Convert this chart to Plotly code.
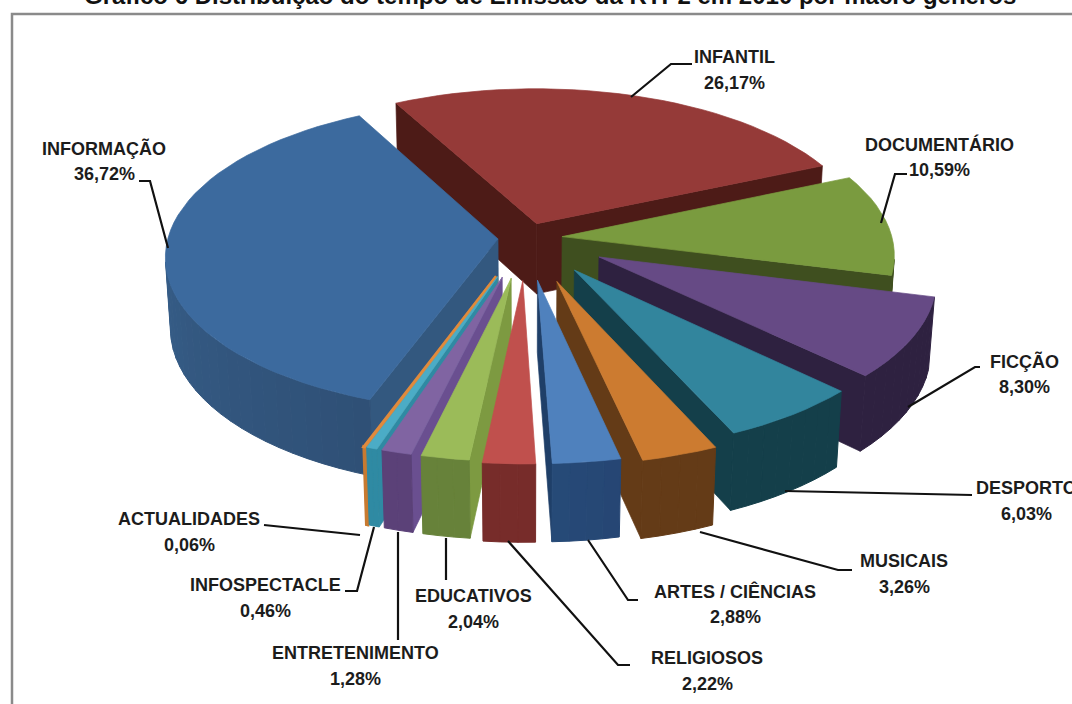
import math
import plotly.graph_objects as go

# Share of RTP2 airtime in 2010 by macro genre, in drawing order around the pie
genres = ["INFANTIL", "DOCUMENTÁRIO", "FICÇÃO", "DESPORTO", "MUSICAIS", "ARTES / CIÊNCIAS",
          "RELIGIOSOS", "EDUCATIVOS", "ENTRETENIMENTO", "INFOSPECTACLE", "ACTUALIDADES", "INFORMAÇÃO"]
shares = [26.17, 10.59, 8.30, 6.03, 3.26, 2.88, 2.22, 2.04, 1.28, 0.46, 0.06, 36.72]
share_labels = ["26,17%", "10,59%", "8,30%", "6,03%", "3,26%", "2,88%",
                "2,22%", "2,04%", "1,28%", "0,46%", "0,06%", "36,72%"]

# Radial offset of every slice from the pie centre
explode = [0.10, 0.11, 0.25, 0.25, 0.29, 0.27, 0.27, 0.26, 0.26, 0.26, 0.26, 0.085]

top_colors = ["#953a38", "#7a9b3f", "#664a85", "#32859d", "#cc7b30", "#4f81bd",
              "#c0504d", "#9bbb59", "#8064a2", "#4bacc6", "#e08a3c", "#3c6a9e"]
rim_colors = [("#4d1b17", "#4d1b17"), ("#3f4f1f", "#3f4f1f"), ("#2e2140", "#2e2140"),
              ("#143f4a", "#143f4a"), ("#643b17", "#643b17"), ("#264673", "#264a78"),
              ("#772c2a", "#772c2a"), ("#67823a", "#67823a"), ("#5b4178", "#5b4178"),
              ("#2f8aa3", "#2f8aa3"), ("#c87a30", "#c87a30"), ("#2f5076", "#3d6a99")]
face_colors = ["#4d1b17", "#3f4f1f", "#2e2140", "#143f4a", "#643b17", "#1f3f68",
               "#772c2a", "#7d9a41", "#6a4f90", "#2f8aa3", "#c87a30", "#33587f"]

# Back-to-front paint order, as indices into the lists above
paint_order = [0, 11, 1, 2, 3, 4, 5, 10, 9, 8, 7, 6]

# Leader lines and label anchors, in page pixels
leaders = [
    [(692, 64), (671, 64), (631, 97)],
    [(907, 174), (895, 174), (881, 223)],
    [(980, 367), (975, 367), (908, 407)],
    [(972, 495), (785, 491)],
    [(852, 570), (838, 570), (700, 532)],
    [(638, 600), (628, 600), (588, 540)],
    [(630, 665), (618, 665), (508, 541)],
    [(446, 580), (446, 538)],
    [(398, 640), (398, 532)],
    [(345, 591), (357, 591), (374, 527)],
    [(264, 525), (360, 535)],
    [(139, 181), (150, 181), (168, 248)],
]
label_anchor = [(734, 57), (939, 144), (1024, 361), (1026, 488), (904, 561), (735, 591),
                (707, 658), (473, 596), (355, 653), (265, 585), (189, 519), (104, 148)]

# Camera model for the tilted pie
CX, CY = 526, 238
FOCAL = 330
DIST = 8.0
TILT = math.radians(27.6)
THICK = 0.245
START = -28.0


def project(x, y, z):
    v = y * math.sin(TILT) + z * math.cos(TILT)
    w = DIST + y * math.cos(TILT) - z * math.sin(TILT)
    return CX + FOCAL * x * DIST / w, CY - FOCAL * v * DIST / w


CAMERA = (0.0, -DIST * math.cos(TILT), DIST * math.sin(TILT))


def faces_camera(point, normal):
    return sum((c - p) * n for c, p, n in zip(CAMERA, point, normal)) > 0


def polar(ax, ay, deg, r=1.0):
    t = math.radians(deg)
    return ax + r * math.sin(t), ay + r * math.cos(t)


def hex_mix(a, b, t):
    ca = [int(a[i:i + 2], 16) for i in (1, 3, 5)]
    cb = [int(b[i:i + 2], 16) for i in (1, 3, 5)]
    return "#%02x%02x%02x" % tuple(round(p + (q - p) * t) for p, q in zip(ca, cb))


fig = go.Figure()


def add_poly(points, color, width=0.7):
    xs, ys = zip(*[project(*p) for p in points])
    fig.add_trace(go.Scatter(x=list(xs) + [xs[0]], y=list(ys) + [ys[0]], mode="lines", fill="toself",
                             fillcolor=color, line=dict(color=color, width=width),
                             hoverinfo="skip", showlegend=False))


total = sum(shares)
bounds = [START]
for s in shares:
    bounds.append(bounds[-1] + 360.0 * s / total)

for i in paint_order:
    a0, a1 = bounds[i], bounds[i + 1]
    mid = (a0 + a1) / 2
    ax, ay = polar(0, 0, mid, explode[i])
    steps = max(2, int(math.ceil((a1 - a0) / 3)))
    angles = [a0 + (a1 - a0) * k / steps for k in range(steps + 1)]
    width = 3.0 if shares[i] < 0.2 else 0.7

    # radial side walls
    for deg, sign in ((a0, -1), (a1, 1)):
        t = math.radians(deg)
        normal = (sign * math.cos(t), -sign * math.sin(t), 0.0)
        ex, ey = polar(ax, ay, deg)
        if faces_camera((ex, ey, 0), normal):
            add_poly([(ax, ay, 0), (ex, ey, 0), (ex, ey, -THICK), (ax, ay, -THICK)], face_colors[i], width)

    # curved outer wall, split into strips so the shade can drift along it
    for k in range(steps):
        d0, d1 = angles[k], angles[k + 1]
        dm = math.radians((d0 + d1) / 2)
        px, py = polar(ax, ay, (d0 + d1) / 2)
        if not faces_camera((px, py, 0), (math.sin(dm), math.cos(dm), 0.0)):
            continue
        x0, y0 = polar(ax, ay, d0)
        x1, y1 = polar(ax, ay, d1)
        shade = hex_mix(rim_colors[i][0], rim_colors[i][1], (k + 0.5) / steps)
        add_poly([(x0, y0, 0), (x1, y1, 0), (x1, y1, -THICK), (x0, y0, -THICK)], shade, max(width, 1.0))

    # top surface
    arc = [polar(ax, ay, d) + (0.0,) for d in angles]
    add_poly([(ax, ay, 0.0)] + arc, top_colors[i], width)

# Leader lines from the labels to their slices
for path in leaders:
    fig.add_trace(go.Scatter(x=[p[0] for p in path], y=[p[1] for p in path], mode="lines",
                             line=dict(color="#111111", width=2.2), hoverinfo="skip", showlegend=False))

text_font = dict(family="Liberation Sans", size=18, color="#1c1c1c")
for name, pct, (lx, ly) in zip(genres, share_labels, label_anchor):
    for text, yy in ((name, ly), (pct, ly + 26)):
        fig.add_annotation(x=lx, y=yy, xref="x", yref="y", text=f"<b>{text}</b>", showarrow=False,
                           font=text_font, xanchor="center", yanchor="middle")

# Chart title, sitting against the top edge of the page
fig.add_annotation(x=550, y=1, xref="x", yref="paper", yanchor="middle", xanchor="center", yshift=5,
                   showarrow=False,
                   text="<b>Gráfico 6 Distribuição do tempo de Emissão da RTP2 em 2010 por macro géneros</b>",
                   font=dict(family="Liberation Sans", size=24, color="#111111"))

fig.add_shape(type="rect", x0=12, y0=14, x1=1090, y1=720, xref="x", yref="y",
              line=dict(color="#8a8a8a", width=2.5), layer="below")

fig.update_layout(width=1072, height=704, margin=dict(l=0, r=0, t=0, b=0), autosize=False,
                  paper_bgcolor="white", plot_bgcolor="white", showlegend=False,
                  xaxis=dict(range=[0, 1072], visible=False, fixedrange=True),
                  yaxis=dict(range=[704, 0], visible=False, fixedrange=True))

fig.write_html("out.html")
